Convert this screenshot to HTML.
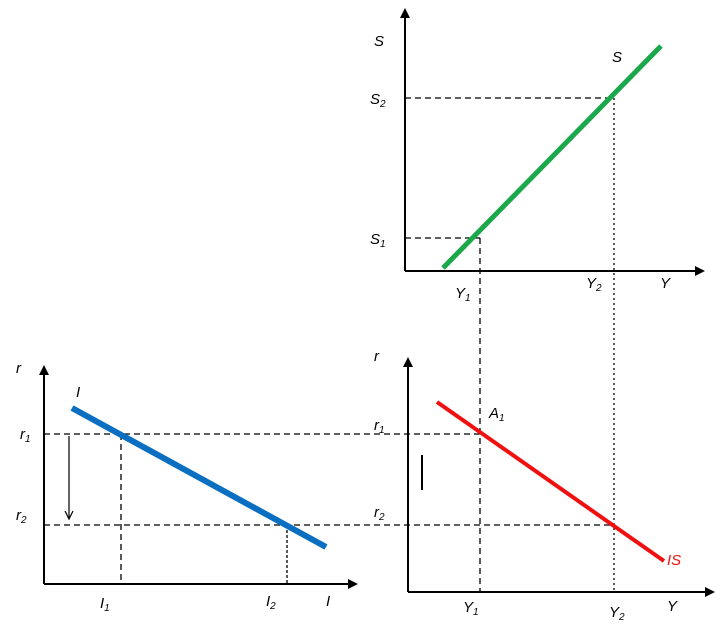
<!DOCTYPE html>
<html><head><style>
html,body{margin:0;padding:0;background:#fff;}
svg text{font-family:"Liberation Sans",sans-serif;font-style:italic;font-size:15px;fill:#000;}
</style></head><body>
<svg width="722" height="637" xmlns="http://www.w3.org/2000/svg">
<defs>
<marker id="ah" markerWidth="10" markerHeight="10" refX="8" refY="5" orient="auto" markerUnits="userSpaceOnUse">
<path d="M0,0 L10,5 L0,10 z" fill="#000"/></marker>
</defs>
<g stroke="#000" stroke-width="2" fill="none">
<line x1="405" y1="271" x2="405" y2="10" marker-end="url(#ah)"/>
<line x1="405" y1="271" x2="703" y2="271" marker-end="url(#ah)"/>
<line x1="44" y1="584" x2="44" y2="367" marker-end="url(#ah)"/>
<line x1="44" y1="584" x2="356" y2="584" marker-end="url(#ah)"/>
<line x1="408" y1="592" x2="408" y2="359" marker-end="url(#ah)"/>
<line x1="408" y1="592" x2="713" y2="592" marker-end="url(#ah)"/>
</g>
<g stroke="#000" stroke-width="1.3" stroke-dasharray="6,4" fill="none">
<line x1="405" y1="98" x2="614" y2="98"/>
<line x1="405" y1="238" x2="480" y2="238"/>
<line x1="480" y1="238" x2="480" y2="592"/>
<line x1="614" y1="98" x2="614" y2="592" stroke-dasharray="2,3"/>
<line x1="44" y1="434" x2="480" y2="434"/>
<line x1="44" y1="525" x2="614" y2="525"/>
<line x1="121" y1="434" x2="121" y2="584"/>
<line x1="287" y1="525" x2="287" y2="584" stroke-dasharray="3,2"/>
</g>
<line x1="69" y1="436" x2="69" y2="519" stroke="#000" stroke-width="1.2"/>
<path d="M65,511 L69,519 L73,511" fill="none" stroke="#000" stroke-width="1.2"/>
<line x1="422" y1="455" x2="422" y2="490" stroke="#000" stroke-width="2"/>
<line x1="443" y1="268" x2="661" y2="46" stroke="#1aa84a" stroke-width="5"/>
<line x1="72" y1="408" x2="326" y2="547" stroke="#0a6fc0" stroke-width="6"/>
<line x1="437" y1="402" x2="664" y2="561" stroke="#f01010" stroke-width="4"/>
<text x="374" y="46">S</text>
<text x="612" y="62">S</text>
<text x="370" y="104">S<tspan font-size="10" dy="3">2</tspan></text>
<text x="370" y="244">S<tspan font-size="10" dy="3">1</tspan></text>
<text x="455" y="298">Y<tspan font-size="10" dy="3">1</tspan></text>
<text x="586" y="288">Y<tspan font-size="10" dy="3">2</tspan></text>
<text x="660" y="288">Y</text>
<text x="16" y="373">r</text>
<text x="76" y="397">I</text>
<text x="20" y="439">r<tspan font-size="10" dy="3">1</tspan></text>
<text x="16" y="520">r<tspan font-size="10" dy="3">2</tspan></text>
<text x="100" y="608">I<tspan font-size="10" dy="3">1</tspan></text>
<text x="266" y="606">I<tspan font-size="10" dy="3">2</tspan></text>
<text x="326" y="606">I</text>
<text x="374" y="361">r</text>
<text x="374" y="430">r<tspan font-size="10" dy="3">1</tspan></text>
<text x="374" y="517">r<tspan font-size="10" dy="3">2</tspan></text>
<text x="489" y="418">A<tspan font-size="10" dy="3">1</tspan></text>
<text x="667" y="565" style="fill:#f01010">IS</text>
<text x="463" y="612">Y<tspan font-size="10" dy="3">1</tspan></text>
<text x="609" y="617">Y<tspan font-size="10" dy="3">2</tspan></text>
<text x="667" y="611">Y</text>
</svg>
</body></html>
